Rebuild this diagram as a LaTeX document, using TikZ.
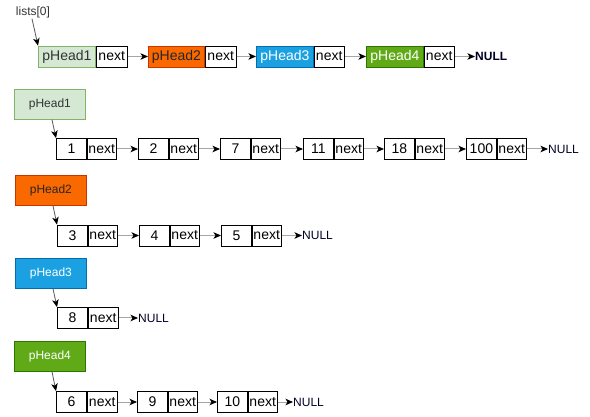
\documentclass[tikz,border=0pt]{standalone}
\usepackage{fontspec}
\setmainfont{Liberation Sans}
\usetikzlibrary{arrows.meta,calc}
\definecolor{g1fill}{HTML}{D5E8D4}\definecolor{g1line}{HTML}{82B366}
\definecolor{o2fill}{HTML}{FA6800}\definecolor{o2line}{HTML}{C73500}
\definecolor{b3fill}{HTML}{1BA1E2}\definecolor{b3line}{HTML}{006EAF}
\definecolor{v4fill}{HTML}{60A917}\definecolor{v4line}{HTML}{2D7600}
\tikzset{
  cellbox/.style={draw=black, line width=0.8pt, inner sep=0pt, minimum height=21pt, anchor=west, font=\fontsize{14}{16}\selectfont},
  valcell/.style={cellbox, minimum width=30pt},
  nextcell/.style={cellbox, minimum width=29pt},
  link/.style={draw=gray!70, line width=1pt, -{Stealth[black,length=7.5pt,width=6.5pt,inset=2pt]}},
  headlink/.style={draw=black!65, line width=0.8pt, -{Stealth[black,length=7.5pt,width=6.5pt,inset=2pt]}},
  nulltext/.style={inner sep=0pt, anchor=west, font=\fontsize{12}{14}\selectfont, text=black!85!blue},
  topnull/.style={inner sep=0pt, anchor=west, font=\fontsize{12}{14}\selectfont\bfseries, text=black!85!blue},
  headbox/.style={line width=0.8pt, inner sep=0pt, minimum width=71pt, minimum height=30pt, anchor=north west, font=\fontsize{12}{14}\selectfont},
  h1/.style={headbox, draw=g1line, fill=g1fill, text=black!80},
  h2/.style={headbox, draw=o2line, fill=o2fill, text=black!85},
  h3/.style={headbox, draw=b3line, fill=b3fill, text=white},
  h4/.style={headbox, draw=v4line, fill=v4fill, text=white},
  tophead/.style={cellbox, minimum width=57pt, minimum height=21pt},
}
\begin{document}
\begin{tikzpicture}[x=1pt,y=-1pt]
\useasboundingbox (0,0) rectangle (590,417);
\fill[white] (0,0) rectangle (590,417);
% top row
\node[inner sep=0pt, font=\fontsize{12}{14}\selectfont, text=black!80] (lst) at (33,12) {lists[0]};
\node[tophead, draw=g1line, fill=g1fill, text=black!80] (t1) at (38,56.5) {pHead1};
\node[cellbox, minimum width=31pt] (t1n) at (t1.east) {next};
\node[tophead, draw=o2line, fill=o2fill, text=black!85, minimum width=56pt] (t2) at (148,56.5) {pHead2};
\node[cellbox, minimum width=31pt] (t2n) at (t2.east) {next};
\node[tophead, draw=b3line, fill=b3fill, text=white] (t3) at (256,56.5) {pHead3};
\node[cellbox, minimum width=30pt] (t3n) at (t3.east) {next};
\node[tophead, draw=v4line, fill=v4fill, text=white] (t4) at (366,56.5) {pHead4};
\node[cellbox, minimum width=30pt] (t4n) at (t4.east) {next};
\node[topnull] (tnull) at (475,56.5) {NULL};
\draw[headlink] ($(lst.south)+(-1,1)$) -- (t1.north west);
\draw[link] (t1n.east) -- (t2.west);
\draw[link] (t2n.east) -- (t3.west);
\draw[link] (t3n.east) -- (t4.west);
\draw[link] (t4n.east) -- (tnull.west);
% list 1
\node[h1] (hA) at (14,89) {pHead1};
\node[valcell] (a1) at (56,149) {1};  \node[nextcell] (a1n) at (a1.east) {next};
\node[valcell] (a2) at (138,149) {2}; \node[nextcell] (a2n) at (a2.east) {next};
\node[valcell] (a3) at (220,149) {7}; \node[nextcell] (a3n) at (a3.east) {next};
\node[valcell] (a4) at (303,149) {11}; \node[nextcell] (a4n) at (a4.east) {next};
\node[valcell] (a5) at (384,149) {18}; \node[nextcell] (a5n) at (a5.east) {next};
\node[valcell] (a6) at (466,149) {100}; \node[nextcell] (a6n) at (a6.east) {next};
\node[nulltext] (anull) at (548,149) {NULL};
\draw[headlink] ($(hA.south west)+(38,0)$) -- (a1.north west);
\draw[link] (a1n.east) -- (a2.west);
\draw[link] (a2n.east) -- (a3.west);
\draw[link] (a3n.east) -- (a4.west);
\draw[link] (a4n.east) -- (a5.west);
\draw[link] (a5n.east) -- (a6.west);
\draw[link] (a6n.east) -- (anull.west);
% list 2
\node[h2] (hB) at (15,175) {pHead2};
\node[valcell] (b1) at (57,235.5) {3}; \node[nextcell] (b1n) at (b1.east) {next};
\node[valcell] (b2) at (139,235.5) {4}; \node[nextcell] (b2n) at (b2.east) {next};
\node[valcell] (b3) at (221,235.5) {5}; \node[nextcell] (b3n) at (b3.east) {next};
\node[nulltext] (bnull) at (302,235.5) {NULL};
\draw[headlink] ($(hB.south west)+(38,0)$) -- (b1.north west);
\draw[link] (b1n.east) -- (b2.west);
\draw[link] (b2n.east) -- (b3.west);
\draw[link] (b3n.east) -- (bnull.west);
% list 3
\node[h3] (hC) at (15,258) {pHead3};
\node[valcell] (c1) at (57,318) {8}; \node[nextcell, minimum width=30pt] (c1n) at (c1.east) {next};
\node[nulltext] (cnull) at (138,318) {NULL};
\draw[headlink] ($(hC.south west)+(38,0)$) -- (c1.north west);
\draw[link] (c1n.east) -- (cnull.west);
% list 4
\node[h4] (hD) at (14,341) {pHead4};
\node[valcell] (d1) at (56,402) {6}; \node[nextcell, minimum width=30pt] (d1n) at (d1.east) {next};
\node[valcell] (d2) at (137,402) {9}; \node[nextcell] (d2n) at (d2.east) {next};
\node[valcell] (d3) at (217,402) {10}; \node[nextcell] (d3n) at (d3.east) {next};
\node[nulltext] (dnull) at (293,402) {NULL};
\draw[headlink] ($(hD.south west)+(38,0)$) -- (d1.north west);
\draw[link] (d1n.east) -- (d2.west);
\draw[link] (d2n.east) -- (d3.west);
\draw[link] (d3n.east) -- (dnull.west);
\end{tikzpicture}
\end{document}
